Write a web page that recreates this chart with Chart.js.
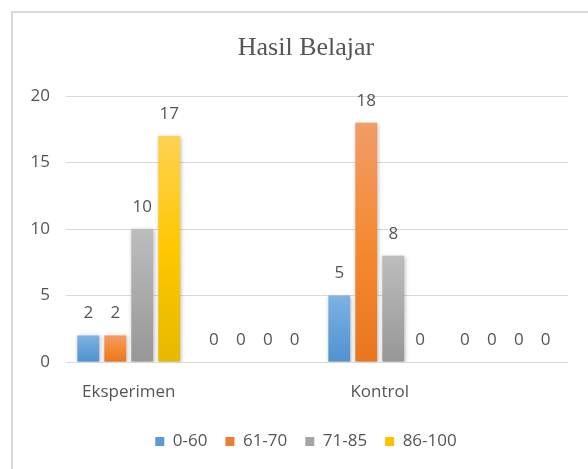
<!DOCTYPE html>
<html>
<head>
<meta charset="utf-8">
<script src="https://cdn.jsdelivr.net/npm/chart.js@4.4.0/dist/chart.umd.min.js"></script>
<style>
  html, body { margin: 0; padding: 0; background: #fff; overflow: hidden; }
  #box {
    position: absolute; left: 11px; top: 11px;
    width: 600px; height: 480px;
    border-left: 2px solid #d9d9d9; border-top: 2px solid #d9d9d9;
  }
</style>
</head>
<body>
<div id="box"><canvas id="myChart" width="586" height="470"></canvas></div>
<script>
// data
var categories = ["Eksperimen", "", "Kontrol", ""];
var seriesNames = ["0-60", "61-70", "71-85", "86-100"];
var nilai0_60 = [2, 0, 5, 0];
var nilai61_70 = [2, 0, 18, 0];
var nilai71_85 = [10, 0, 8, 0];
var nilai86_100 = [17, 0, 0, 0];
var yTicks = [0, 5, 10, 15, 20];

// colours: top, middle, bottom of the gradient, and flat legend colour
var colors = [
  ["#7fb3e3", "#64a2da", "#5192cf", "#5b9bd5"],
  ["#f29c68", "#f58a33", "#e8761f", "#ed7d31"],
  ["#bdbdbd", "#aaaaaa", "#979797", "#a5a5a5"],
  ["#ffd152", "#ffc800", "#e6b800", "#ffc000"]
];

// gradient per bar, from its top down to zero
function grad(i) {
  return function(context) {
    var chart = context.chart;
    var y = chart.scales && chart.scales.y;
    if (!chart.chartArea || !y || !context.raw) return colors[i][3];
    var top = y.getPixelForValue(context.raw);
    var bottom = y.getPixelForValue(0);
    var g = chart.ctx.createLinearGradient(0, top, 0, bottom);
    g.addColorStop(0, colors[i][0]);
    g.addColorStop(0.5, colors[i][1]);
    g.addColorStop(1, colors[i][2]);
    return g;
  };
}

var allValues = [nilai0_60, nilai61_70, nilai71_85, nilai86_100];
var datasets = [];
for (var i = 0; i < seriesNames.length; i++) {
  datasets.push({
    label: seriesNames[i],
    data: allValues[i],
    backgroundColor: grad(i),
    borderWidth: 0,
    categoryPercentage: 0.86,
    barPercentage: 0.81
  });
}

var textColor = "#555555";
var labelFont = "'Open Sans', 'Noto Sans', sans-serif";

// shadow + value labels above bars
var barExtras = {
  id: 'barExtras',
  beforeDatasetDraw: function(chart) {
    var ctx = chart.ctx;
    ctx.save();
    ctx.shadowColor = "rgba(0,0,0,0.28)";
    ctx.shadowBlur = 4;
    ctx.shadowOffsetX = 1;
    ctx.shadowOffsetY = 1;
  },
  afterDatasetDraw: function(chart) {
    chart.ctx.restore();
  },
  afterDatasetsDraw: function(chart) {
    var ctx = chart.ctx;
    ctx.save();
    ctx.font = "17px " + labelFont;
    ctx.fillStyle = textColor;
    ctx.textAlign = "center";
    ctx.textBaseline = "middle";
    chart.data.datasets.forEach(function(ds, di) {
      var meta = chart.getDatasetMeta(di);
      meta.data.forEach(function(bar, j) {
        ctx.fillText(String(ds.data[j]), bar.x, bar.y - 22);
      });
    });
    ctx.restore();
  }
};

var config = {
  type: 'bar',
  data: { labels: categories, datasets: datasets },
  options: {
    responsive: false,
    animation: false,
    layout: { padding: { left: 0, right: 0, top: 0, bottom: 23 } },
    plugins: {
      title: {
        display: true,
        text: "Hasil Belajar",
        color: textColor,
        font: { family: "'Liberation Serif', 'DejaVu Serif', serif", size: 26, weight: 'normal' },
        padding: { top: 20, bottom: 32 }
      },
      legend: {
        position: 'bottom',
        labels: {
          color: textColor,
          font: { family: labelFont, size: 17 },
          boxWidth: 9,
          boxHeight: 9,
          padding: 18,
          generateLabels: function(chart) {
            return seriesNames.map(function(n, k) {
              return { text: n, fillStyle: colors[k][3], strokeStyle: colors[k][3], lineWidth: 0, datasetIndex: k, fontColor: textColor };
            });
          }
        }
      },
      tooltip: { enabled: false }
    },
    scales: {
      x: {
        grid: { display: false },
        border: { display: false },
        afterFit: function(scale) { scale.height = 53; },
        ticks: { color: textColor, font: { family: labelFont, size: 17 }, padding: 12 }
      },
      y: {
        min: 0,
        max: 20,
        afterBuildTicks: function(scale) {
          scale.ticks = yTicks.map(function(v) { return { value: v }; });
        },
        afterFit: function(scale) { scale.width = 53; },
        grid: { color: "#d9d9d9", drawTicks: false },
        border: { display: false },
        ticks: { color: textColor, font: { family: labelFont, size: 17 }, padding: 16 }
      },
      // empty space on the right of the plot, like the Excel chart box
      yRight: {
        position: 'right',
        grid: { display: false },
        border: { display: false },
        ticks: { display: false },
        afterFit: function(scale) { scale.width = 31; }
      }
    }
  },
  plugins: [barExtras]
};

var myChart = new Chart(document.getElementById('myChart'), config);
</script>
</body>
</html>
